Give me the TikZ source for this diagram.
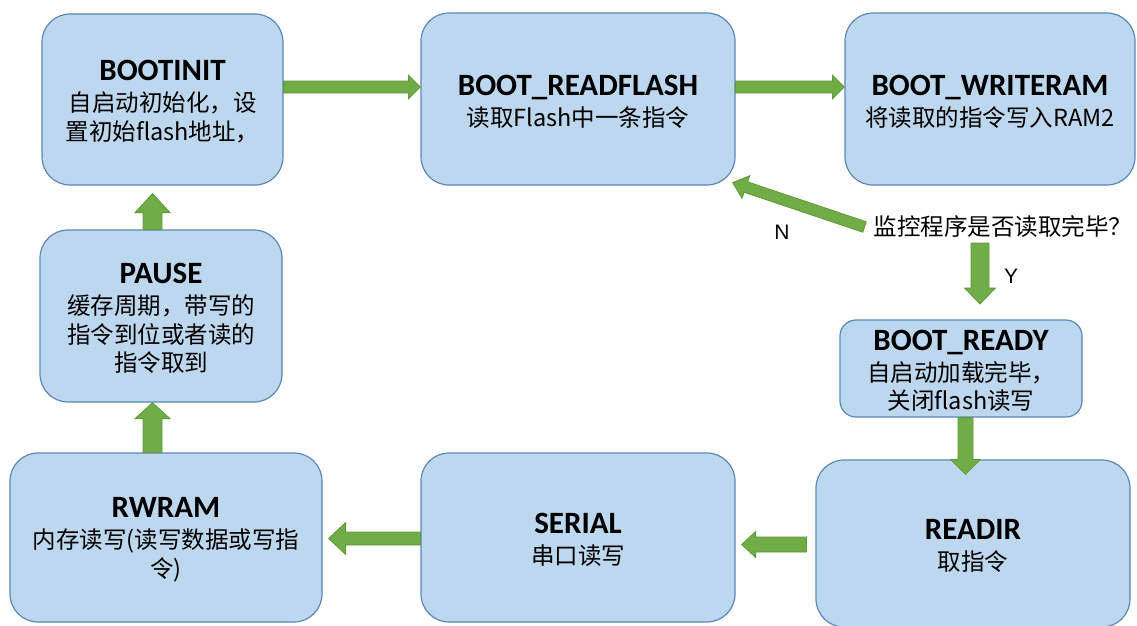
\documentclass[tikz,border=0pt]{standalone}
\usepackage{fontspec}
\setmainfont{Carlito}
\newfontfamily\cjk{Noto Sans CJK SC}
\newfontfamily\labelfont{Liberation Sans}
\usetikzlibrary{calc}

\definecolor{boxfill}{HTML}{BDD7EE}
\definecolor{boxline}{HTML}{5B87B9}
\definecolor{arrowfill}{HTML}{70AD47}
\definecolor{arrowline}{HTML}{5E9A3A}

\newcommand\titlef{\rmfamily\fontsize{31}{31}\selectfont\bfseries}
\newcommand\bodyf{\cjk\fontsize{23.5}{28.5}\selectfont}
% state name line, with a strut that lowers the text block a little
\newcommand\ttl[1]{{\titlef\rule{0pt}{25pt}#1}}

% block arrow from #1 (tail) to #2 (tip): shaft half-width #3, head half-width #4, head length #5
\newcommand\blockarrow[5]{%
  \coordinate (bahead) at ($(#2)!#5!(#1)$);
  \draw[flowarrow] ($(#1)!#3!90:(#2)$) -- ($(bahead)!#3!90:(#2)$)
    -- ($(bahead)!#4!90:(#2)$) -- (#2) -- ($(bahead)!#4!-90:(#2)$)
    -- ($(bahead)!#3!-90:(#2)$) -- ($(#1)!#3!-90:(#2)$) -- cycle;}

\tikzset{
  stbox/.style={draw=boxline, line width=1.2pt, fill=boxfill, rounded corners=28pt,
    align=center, inner sep=0pt, font=\bodyf},
  flowarrow/.style={fill=arrowfill, draw=arrowline, line width=0.8pt, line join=miter},
  yn/.style={font=\labelfont\fontsize{21}{21}\selectfont, inner sep=0pt},
}

\begin{document}
\begin{tikzpicture}[x=1pt, y=-1pt]
\path[use as bounding box] (0,0) rectangle (1137,626);

% states
\node[stbox, minimum width=241pt, minimum height=171pt] (init) at (162.5,99.5)
  {\ttl{BOOTINIT}\\[2.5pt]自启动初始化，设\\置初始flash地址，};
\node[stbox, minimum width=314pt, minimum height=172pt] (flash) at (578,99)
  {\ttl{BOOT\_READFLASH}\\[2.5pt]读取Flash中一条指令};
\node[stbox, minimum width=290pt, minimum height=172pt] (wram) at (990,99)
  {\ttl{BOOT\_WRITERAM}\\[2.5pt]将读取的指令写入RAM2};
\node[stbox, minimum width=242pt, minimum height=172pt] (pause) at (161,316)
  {\ttl{PAUSE}\\[2.5pt]缓存周期，带写的\\指令到位或者读的\\指令取到};
\node[stbox, rounded corners=16pt, minimum width=242pt, minimum height=97pt] (ready) at (961,368.5)
  {\ttl{BOOT\_READY}\\[2.5pt]自启动加载完毕，\\关闭flash读写};
\node[stbox, minimum width=312pt, minimum height=169pt] (rwram) at (166,537.5)
  {\ttl{RWRAM}\\[2.5pt]内存读写(读写数据或写指\\令)};
\node[stbox, minimum width=314pt, minimum height=169pt] (serial) at (578,537.5)
  {\ttl{SERIAL}\\[2.5pt]串口读写};
\node[stbox, minimum width=314pt, minimum height=167pt] (readir) at (973,543.5)
  {\ttl{READIR}\\[2.5pt]取指令};

% decision text and branch labels
\node[font=\bodyf, inner sep=0pt] (q) at (1003,227) {监控程序是否读取完毕？};
\node[yn] (nlab) at (782,232) {N};
\node[yn] (ylab) at (1011,276) {Y};

% connector end points
\coordinate (a1t) at ([yshift=12.5pt]init.east);
\coordinate (a1h) at ([yshift=12pt]flash.west);
\coordinate (a2t) at ([yshift=12pt]flash.east);
\coordinate (a2h) at ([yshift=12pt]wram.west);
\coordinate (ant) at ([xshift=-9pt]q.west);
\coordinate (anh) at ([xshift=-3pt,yshift=3pt]flash.south east);
\coordinate (ayt) at (980,243);
\coordinate (ayh) at (980,304);
\coordinate (a3t) at ([xshift=4.5pt]ready.south);
\coordinate (a3h) at ([xshift=-7.5pt,yshift=-15pt]readir.north);
\coordinate (a4t) at ([xshift=-9pt,yshift=-1pt]readir.west);
\coordinate (a4h) at ([xshift=6pt,yshift=-7pt]serial.east);
\coordinate (a5t) at ([yshift=-1pt]serial.west);
\coordinate (a5h) at ([xshift=6pt,yshift=-1pt]rwram.east);
\coordinate (a6t) at ([xshift=-13.5pt]rwram.north);
\coordinate (a6h) at ([xshift=-8.5pt]pause.south);
\coordinate (a7t) at ([xshift=-8.5pt]pause.north);
\coordinate (a7h) at ([xshift=-10pt,yshift=-8pt]init.south);

% transitions
\blockarrow{a1t}{a1h}{6pt}{12pt}{12pt}
\blockarrow{a2t}{a2h}{6pt}{12pt}{12pt}
\blockarrow{ant}{anh}{5.5pt}{12pt}{14pt}
\blockarrow{ayt}{ayh}{9pt}{15.5pt}{16pt}
\blockarrow{a3t}{a3h}{7.5pt}{15pt}{15pt}
\blockarrow{a4t}{a4h}{7.5pt}{13pt}{14pt}
\blockarrow{a5t}{a5h}{6.5pt}{16pt}{17pt}
\blockarrow{a6t}{a6h}{9.5pt}{17.5pt}{16pt}
\blockarrow{a7t}{a7h}{9.5pt}{17.5pt}{19pt}
\end{tikzpicture}
\end{document}
